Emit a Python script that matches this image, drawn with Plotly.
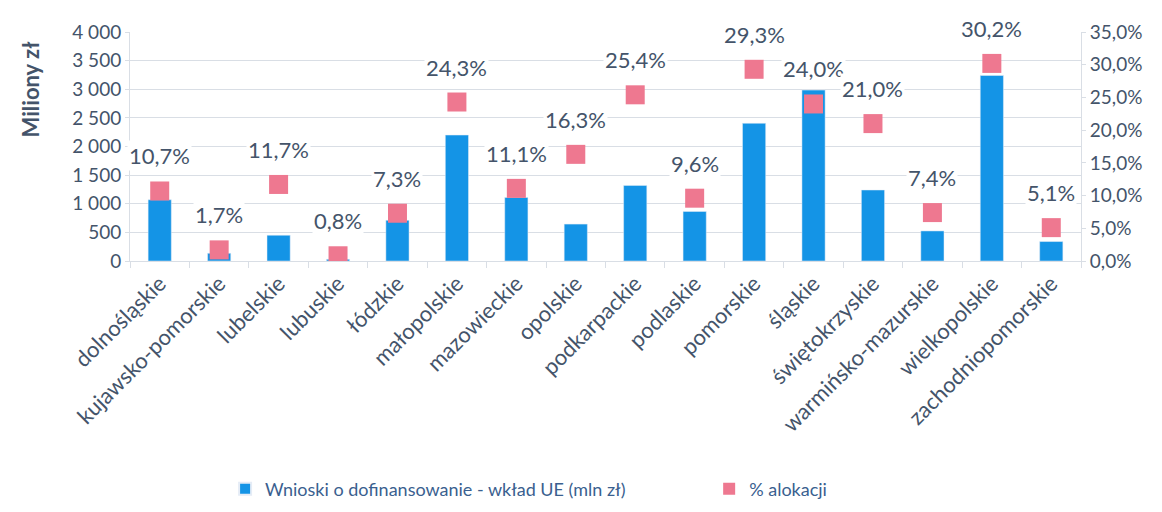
import plotly.graph_objects as go

regions = [
    "dolnośląskie", "kujawsko-pomorskie", "lubelskie", "lubuskie", "łódzkie",
    "małopolskie", "mazowieckie", "opolskie", "podkarpackie", "podlaskie",
    "pomorskie", "śląskie", "świętokrzyskie", "warmińsko-mazurskie",
    "wielkopolskie", "zachodniopomorskie",
]
wnioski_mln = [1070, 135, 450, 30, 710, 2200, 1110, 645, 1320, 865,
               2405, 2985, 1240, 525, 3240, 340]
alokacja_pct = [10.7, 1.7, 11.7, 0.8, 7.3, 24.3, 11.1, 16.3, 25.4, 9.6,
                29.3, 24.0, 21.0, 7.4, 30.2, 5.1]

text_col = "#44546A"
legend_col = "#3A5F8F"
grid_col = "#D9DEE5"
font = "Lato"

fig = go.Figure()
fig.add_trace(go.Bar(
    x=regions, y=wnioski_mln,
    name="Wnioski o dofinansowanie - wkład UE (mln zł)",
    marker_color="#1494E6", width=0.39, legend="legend",
))
fig.add_trace(go.Scatter(
    x=regions, y=alokacja_pct, yaxis="y2", mode="markers",
    name="% alokacji", legend="legend2",
    marker=dict(symbol="square", size=19, color="#EE7890"),
))

# percentage labels sit above the markers on a white box (cuts the gridlines)
for r, p in zip(regions, alokacja_pct):
    fig.add_annotation(
        x=r, y=p, yref="y2", text=f"{p:.1f}".replace(".", ",") + "%",
        showarrow=False, yshift=35, bgcolor="white", borderpad=1,
        font=dict(family=font, size=22, color=text_col),
    )

fig.add_annotation(
    text="<b>Miliony zł</b>", textangle=-90, xref="paper", yref="paper",
    x=-0.105, y=0.75, xanchor="center", yanchor="middle", showarrow=False,
    font=dict(family=font, size=22, color=text_col),
)

legend_style = dict(orientation="h", y=-0.996, yanchor="middle",
                    xanchor="left", font=dict(size=18, color=legend_col),
                    itemsizing="constant", bgcolor="rgba(0,0,0,0)")

fig.update_layout(
    width=1162, height=512,
    margin=dict(l=122, r=89, t=24, b=251),
    plot_bgcolor="white", paper_bgcolor="white",
    separators=", ",
    font=dict(family=font, size=19, color=text_col),
    showlegend=True,
    legend=dict(x=0.10, **legend_style),
    legend2=dict(x=0.609, **legend_style),
    xaxis=dict(range=[-0.5, 15.5], tickangle=-45, showline=True,
               linecolor=grid_col, ticks="outside", tickson="boundaries",
               ticklen=6, tickcolor=grid_col, tickfont=dict(size=22),
               automargin=False),
    yaxis=dict(range=[0, 4000], dtick=500, tickformat=",d",
               gridcolor=grid_col, showline=True, linecolor=grid_col,
               ticks="outside", ticklen=4, tickcolor=grid_col,
               zeroline=False, automargin=False),
    yaxis2=dict(range=[0, 35], dtick=5, tickformat=".1f", ticksuffix="%",
                overlaying="y", side="right", showgrid=False,
                showline=True, linecolor=grid_col, ticks="outside",
                ticklen=4, tickcolor=grid_col, zeroline=False,
                automargin=False),
)

fig.write_html("out.html")
